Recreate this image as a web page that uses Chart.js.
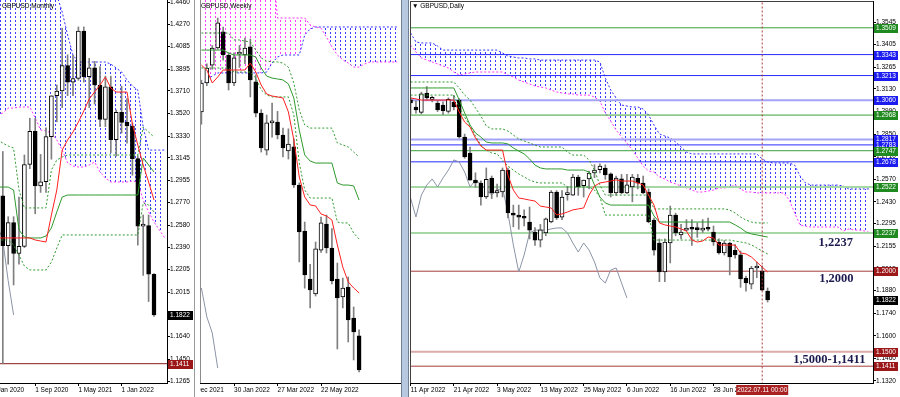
<!DOCTYPE html>
<html><head><meta charset="utf-8">
<script src="https://cdn.jsdelivr.net/npm/chart.js@4.4.1/dist/chart.umd.min.js"></script>
<style>
html,body{margin:0;padding:0;background:#fff}
#wrap{position:relative;width:900px;height:397px;background:#fff;overflow:hidden}
canvas{position:absolute;top:0}
.sep{position:absolute;top:0;height:397px}
</style></head><body>
<div id="wrap">
<canvas id="cm" width="197" height="397" style="left:0"></canvas>
<div class="sep" style="left:194px;width:1px;background:#9a9a9a"></div>
<canvas id="cw" width="202" height="397" style="left:200px"></canvas>
<div class="sep" style="left:401px;width:6px;background:#b7c9df;border-left:1px solid #6f7f95;border-right:1px solid #6f7f95"></div>
<canvas id="cd" width="490" height="397" style="left:410px"></canvas>
</div>
<script>
// ================= DATA =================
// ---- Monthly (index 0 = Jan 2020) : [open, high, low, close]
const mOHLC = [
[1.3255,1.3285,1.2905,1.3205],[1.3205,1.3210,1.2725,1.2825],[1.2825,1.3200,1.1410,1.2405],[1.2405,1.2650,1.2250,1.2600],
[1.2600,1.2650,1.2075,1.2340],[1.2340,1.2815,1.2250,1.2400],[1.2400,1.3170,1.2390,1.3090],[1.3090,1.3480,1.3055,1.3370],
[1.3370,1.3480,1.2675,1.2910],[1.2910,1.3175,1.2855,1.2945],[1.2945,1.3400,1.2855,1.3325],[1.3325,1.3670,1.3135,1.3670],
[1.3670,1.3760,1.3450,1.3710],[1.3710,1.4240,1.3570,1.3925],[1.3925,1.4015,1.3670,1.3785],[1.3785,1.4010,1.3670,1.3815],
[1.3815,1.4250,1.3800,1.4215],[1.4215,1.4250,1.3785,1.3830],[1.3830,1.3985,1.3570,1.3905],[1.3905,1.3960,1.3600,1.3760],
[1.3760,1.3915,1.3410,1.3470],[1.3470,1.3835,1.3410,1.3745],[1.3745,1.3835,1.3190,1.3300],[1.3300,1.3550,1.3160,1.3530],
[1.3530,1.3750,1.3355,1.3445],[1.3445,1.3645,1.3270,1.3415],[1.3415,1.3440,1.3000,1.3140],[1.3140,1.3165,1.2410,1.2570],
[1.2570,1.2665,1.2155,1.2575],[1.2575,1.2665,1.1935,1.2165],[1.2165,1.2170,1.1810,1.1822]];
const mTenkan = [1.2471,1.2471,1.2471,1.2471,1.2471,1.2471,1.2471,1.2471,1.2454,1.2445,1.2437,1.2664,1.2875,1.3212,1.3297,1.3364,1.3448,1.3541,1.3642,1.3701,1.3760,1.3828,1.3735,1.3701,1.3701,1.3701,1.3432,1.3254,1.3086,1.2943,1.2791];
const mKijun = [1.2900,1.2900,1.2900,1.2900,1.2875,1.2538,1.2479,1.2471,1.2471,1.2471,1.2487,1.2555,1.2690,1.2816,1.2833,1.2833,1.2833,1.2833,1.2833,1.2833,1.2833,1.2833,1.2833,1.2833,1.2833,1.2833,1.2833,1.2833,1.3145,1.3086,1.3027];
const mDashUp = [1.3297,1.3297,1.3271,1.3246,1.3229,1.2875,1.2724,1.2724,1.2724,1.2724,1.2724,1.3044,1.3128,1.3154,1.3170,1.3170,1.3170,1.3170,1.3170,1.3170,1.3170,1.3170,1.3170,1.3170,1.3170,1.3170,1.3170,1.3170,1.3406,1.3364,1.3322];
const mDashDn = [1.2454,1.2454,1.2454,1.2454,1.2412,1.2327,1.2234,1.2201,1.2201,1.2201,1.2201,1.2268,1.2386,1.2496,1.2496,1.2496,1.2496,1.2496,1.2496,1.2496,1.2496,1.2496,1.2496,1.2496,1.2496,1.2496,1.2496,1.2496,1.2766,1.2749,1.2690];
const mSpanA = [1.3507,1.3507,1.3524,1.3566,1.3566,1.3575,1.3575,1.3575,1.3482,1.3381,1.3373,1.3356,1.3297,1.3212,1.3103,1.3078,1.3069,1.3069,1.3086,1.3111,1.3027,1.2976,1.2943,1.2943,1.2943,1.2943,1.2951,1.2943,1.2791,1.2690,1.2606,1.2538,1.2471];
const mSpanB = [1.4730,1.4730,1.4730,1.4730,1.4730,1.4730,1.4730,1.4730,1.4730,1.4730,1.4730,1.4730,1.4519,1.4376,1.4182,1.4013,1.3954,1.3954,1.3954,1.3954,1.3954,1.3954,1.3937,1.3904,1.3870,1.3803,1.3752,1.3718,1.3406,1.3212,1.3212,1.3212,1.3212];
const mChikou = [1.3140,1.2580,1.2450,1.2110,1.1822];
const mLevels = [1.1411];
const mPriceTags = [1.1822,1.1411];
const mYTicks = [1.4460,1.4270,1.4085,1.3895,1.3710,1.3520,1.3330,1.3145,1.2955,1.2770,1.2580,1.2390,1.2205,1.2015,1.1830,1.1640,1.1450,1.1265];
const mXTicks = [0,8,16,24];
const mXLabels = ['1 Jan 2020','1 Sep 2020','1 May 2021','1 Jan 2022'];

// ---- Weekly (index 0 = week of 19 Dec 2021)
const wOHLC = [
[1.3237,1.3410,1.3170,1.3395],[1.3395,1.3500,1.3380,1.3477],[1.3493,1.3600,1.3470,1.3586],[1.3586,1.3750,1.3580,1.3723],
[1.3674,1.3700,1.3520,1.3548],[1.3548,1.3560,1.3357,1.3395],[1.3395,1.3560,1.3380,1.3532],[1.3553,1.3600,1.3480,1.3562],
[1.3548,1.3640,1.3500,1.3586],[1.3592,1.3635,1.3319,1.3412],[1.3401,1.3440,1.3210,1.3231],[1.3231,1.3250,1.3018,1.3040],
[1.3029,1.3220,1.3002,1.3177],[1.3177,1.3286,1.3100,1.3182],[1.3182,1.3240,1.3090,1.3111],[1.3111,1.3149,1.2991,1.3040],
[1.3024,1.3145,1.2980,1.3062],[1.3046,1.3090,1.2825,1.2838],[1.2838,1.2850,1.2418,1.2582],[1.2587,1.2636,1.2275,1.2347],
[1.2325,1.2405,1.2167,1.2265],[1.2243,1.2527,1.2232,1.2489],[1.2483,1.2663,1.2470,1.2631],[1.2625,1.2674,1.2467,1.2494],
[1.2494,1.2600,1.2298,1.2314],[1.2325,1.2412,1.1943,1.2221],[1.2227,1.2330,1.2167,1.2276],[1.2281,1.2336,1.1981,1.2101],
[1.2112,1.2172,1.1883,1.2036],[1.2014,1.2047,1.1817,1.1828]];
const wTenkan = [1.3493,1.3466,1.3395,1.3428,1.3466,1.3466,1.3466,1.3466,1.3466,1.3504,1.3455,1.3384,1.3335,1.3324,1.3319,1.3313,1.3237,1.3084,1.2882,1.2773,1.2729,1.2724,1.2680,1.2669,1.2647,1.2511,1.2390,1.2309,1.2276,1.2249];
const wKijun = [1.3575,1.3575,1.3575,1.3575,1.3575,1.3559,1.3548,1.3548,1.3548,1.3548,1.3537,1.3477,1.3433,1.3422,1.3417,1.3412,1.3390,1.3313,1.3138,1.3002,1.2969,1.2958,1.2958,1.2958,1.2958,1.2849,1.2838,1.2838,1.2833,1.2756];
const wDashUp = [1.3668,1.3668,1.3668,1.3668,1.3668,1.3668,1.3630,1.3630,1.3624,1.3619,1.3575,1.3532,1.3515,1.3510,1.3510,1.3504,1.3482,1.3395,1.3248,1.3166,1.3149,1.3149,1.3149,1.3149,1.3149,1.3068,1.3057,1.3046,1.3018,1.2991];
const wDashDn = [1.3477,1.3477,1.3477,1.3477,1.3477,1.3477,1.3455,1.3455,1.3455,1.3455,1.3422,1.3357,1.3330,1.3319,1.3319,1.3319,1.3319,1.3220,1.2958,1.2811,1.2767,1.2767,1.2767,1.2767,1.2767,1.2636,1.2631,1.2631,1.2576,1.2543];
const wSpanA = [1.4067,1.4067,1.4067,1.4067,1.4067,1.4067,1.4067,1.4067,1.4067,1.4067,1.4067,1.4067,1.4067,1.4067,1.3750,1.3750,1.3750,1.3750,1.3750,1.3750,1.3712,1.3701,1.3695,1.3646,1.3592,1.3548,1.3521,1.3504,1.3482,1.3482,1.3499,1.3510,1.3510,1.3510,1.3510,1.3510,1.3510];
const wSpanB = [1.3384,1.3412,1.3433,1.3450,1.3450,1.3450,1.3450,1.3450,1.3450,1.3450,1.3450,1.3450,1.3455,1.3504,1.3537,1.3548,1.3548,1.3548,1.3548,1.3657,1.3690,1.3701,1.3701,1.3701,1.3701,1.3701,1.3701,1.3701,1.3701,1.3701,1.3701,1.3701,1.3701,1.3701,1.3701,1.3701,1.3701];
const wChikou = [1.2276,1.2118,1.2030,1.1839];
const wXTicks = [-2,6,14,22];
const wXLabels = ['5 Dec 2021','30 Jan 2022','27 Mar 2022','22 May 2022'];

// ---- Daily (index 0 = 11 Apr 2022)
const dOHLC = [
[1.3062,1.3080,1.2975,1.3043],[1.3018,1.3055,1.2980,1.3000],[1.2985,1.3110,1.2975,1.3100],[1.3105,1.3145,1.3060,1.3074],
[1.3065,1.3085,1.3050,1.3070],[1.3043,1.3060,1.2990,1.3000],[1.3030,1.3050,1.2970,1.2995],[1.2990,1.3075,1.2980,1.3065],
[1.3049,1.3090,1.3000,1.3018],[1.3061,1.3070,1.2825,1.2832],[1.2832,1.2850,1.2700,1.2708],[1.2733,1.2770,1.2565,1.2565],
[1.2565,1.2610,1.2520,1.2547],[1.2547,1.2560,1.2410,1.2460],[1.2460,1.2640,1.2450,1.2570],[1.2578,1.2590,1.2450,1.2485],
[1.2485,1.2540,1.2460,1.2500],[1.2491,1.2640,1.2460,1.2627],[1.2627,1.2640,1.2330,1.2361],[1.2361,1.2410,1.2275,1.2347],
[1.2345,1.2410,1.2260,1.2335],[1.2335,1.2380,1.2280,1.2328],[1.2305,1.2398,1.2200,1.2255],[1.2243,1.2270,1.2160,1.2193],
[1.2193,1.2290,1.2150,1.2256],[1.2237,1.2330,1.2220,1.2324],[1.2305,1.2500,1.2300,1.2491],[1.2491,1.2500,1.2320,1.2330],
[1.2335,1.2500,1.2320,1.2460],[1.2475,1.2525,1.2440,1.2485],[1.2472,1.2600,1.2470,1.2584],[1.2584,1.2595,1.2470,1.2522],
[1.2530,1.2565,1.2460,1.2565],[1.2572,1.2620,1.2510,1.2609],[1.2609,1.2660,1.2580,1.2627],[1.2630,1.2665,1.2610,1.2652],
[1.2640,1.2660,1.2570,1.2597],[1.2603,1.2610,1.2460,1.2485],[1.2485,1.2590,1.2470,1.2578],[1.2572,1.2600,1.2480,1.2485],
[1.2485,1.2600,1.2480,1.2535],[1.2522,1.2600,1.2430,1.2584],[1.2575,1.2600,1.2510,1.2545],[1.2547,1.2590,1.2480,1.2485],
[1.2491,1.2510,1.2300,1.2305],[1.2317,1.2330,1.2100,1.2131],[1.2175,1.2200,1.1935,1.1995],[1.1995,1.2200,1.1935,1.2181],
[1.2175,1.2404,1.2051,1.2348],[1.2348,1.2360,1.2220,1.2237],[1.2225,1.2290,1.2200,1.2243],[1.2255,1.2320,1.2250,1.2265],
[1.2268,1.2320,1.2160,1.2260],[1.2262,1.2300,1.2210,1.2258],[1.2255,1.2320,1.2240,1.2268],[1.2268,1.2330,1.2250,1.2260],
[1.2243,1.2280,1.2160,1.2181],[1.2181,1.2200,1.2105,1.2113],[1.2113,1.2190,1.2100,1.2175],[1.2175,1.2180,1.1977,1.2088],
[1.2130,1.2165,1.2080,1.2101],[1.2101,1.2125,1.1900,1.1952],[1.1958,1.1970,1.1876,1.1927],[1.1920,1.2030,1.1890,1.2020],
[1.2020,1.2057,1.1960,1.2027],[1.2001,1.2033,1.1880,1.1883],[1.1877,1.1896,1.1809,1.1822]];
const dTenkan = [1.3074,1.3068,1.3061,1.3061,1.3061,1.3061,1.3061,1.3061,1.3061,1.2987,1.2925,1.2894,1.2826,1.2776,1.2751,1.2751,1.2751,1.2751,1.2596,1.2503,1.2454,1.2448,1.2441,1.2435,1.2404,1.2398,1.2392,1.2349,1.2355,1.2367,1.2380,1.2386,1.2392,1.2472,1.2528,1.2547,1.2553,1.2559,1.2566,1.2559,1.2559,1.2559,1.2547,1.2534,1.2472,1.2410,1.2299,1.2287,1.2280,1.2274,1.2262,1.2249,1.2193,1.2181,1.2187,1.2212,1.2206,1.2162,1.2162,1.2162,1.2162,1.2113,1.2107,1.2088,1.2057,1.2026,1.1995];
const dKijun = [1.3136,1.3136,1.3136,1.3136,1.3136,1.3136,1.3136,1.3136,1.3136,1.3062,1.2981,1.2906,1.2857,1.2832,1.2801,1.2795,1.2795,1.2795,1.2789,1.2764,1.2745,1.2727,1.2696,1.2658,1.2640,1.2634,1.2634,1.2634,1.2634,1.2627,1.2627,1.2627,1.2627,1.2615,1.2534,1.2460,1.2423,1.2410,1.2410,1.2410,1.2410,1.2410,1.2410,1.2410,1.2410,1.2342,1.2305,1.2305,1.2305,1.2305,1.2305,1.2305,1.2305,1.2305,1.2305,1.2305,1.2305,1.2305,1.2305,1.2305,1.2287,1.2268,1.2243,1.2231,1.2225,1.2218,1.2212];
const dDashUp = [1.3173,1.3173,1.3173,1.3173,1.3173,1.3173,1.3173,1.3173,1.3173,1.3136,1.3092,1.3061,1.3012,1.2962,1.2900,1.2882,1.2882,1.2882,1.2869,1.2844,1.2820,1.2807,1.2795,1.2782,1.2770,1.2770,1.2770,1.2770,1.2770,1.2739,1.2720,1.2720,1.2720,1.2689,1.2627,1.2534,1.2472,1.2472,1.2472,1.2472,1.2472,1.2472,1.2472,1.2472,1.2472,1.2386,1.2386,1.2386,1.2386,1.2386,1.2386,1.2386,1.2386,1.2386,1.2386,1.2386,1.2386,1.2386,1.2386,1.2379,1.2361,1.2336,1.2317,1.2305,1.2299,1.2299,1.2299];
const dDashDn = [1.3092,1.3092,1.3092,1.3092,1.3092,1.3092,1.3092,1.3092,1.3092,1.3018,1.2956,1.2900,1.2838,1.2782,1.2751,1.2733,1.2727,1.2689,1.2652,1.2627,1.2603,1.2584,1.2565,1.2553,1.2547,1.2547,1.2547,1.2547,1.2547,1.2522,1.2522,1.2522,1.2522,1.2522,1.2503,1.2460,1.2348,1.2348,1.2348,1.2348,1.2348,1.2348,1.2348,1.2348,1.2348,1.2193,1.2193,1.2193,1.2193,1.2193,1.2193,1.2193,1.2193,1.2193,1.2193,1.2193,1.2193,1.2193,1.2193,1.2193,1.2187,1.2181,1.2175,1.2163,1.2144,1.2125,1.2107];
const dSpanA = [1.3402,1.3359,1.3322,1.3309,1.3297,1.3285,1.3272,1.3260,1.3235,1.3216,1.3223,1.3229,1.3235,1.3235,1.3235,1.3235,1.3235,1.3235,1.3216,1.3204,1.3185,1.3173,1.3161,1.3148,1.3142,1.3136,1.3123,1.3111,1.3105,1.3099,1.3099,1.3092,1.3092,1.3092,1.3080,1.3055,1.2981,1.2931,1.2875,1.2832,1.2795,1.2751,1.2702,1.2652,1.2621,1.2615,1.2584,1.2572,1.2553,1.2541,1.2528,1.2516,1.2503,1.2491,1.2491,1.2497,1.2503,1.2516,1.2516,1.2522,1.2534,1.2510,1.2491,1.2491,1.2485,1.2485,1.2485,1.2485,1.2485,1.2485,1.2441,1.2361,1.2286,1.2280,1.2274,1.2274,1.2274,1.2274,1.2274,1.2274,1.2249,1.2262,1.2255,1.2255,1.2249,1.2237];
const dSpanB = [1.3477,1.3421,1.3415,1.3415,1.3415,1.3396,1.3371,1.3371,1.3371,1.3371,1.3371,1.3371,1.3371,1.3371,1.3371,1.3371,1.3371,1.3353,1.3334,1.3328,1.3322,1.3322,1.3316,1.3316,1.3309,1.3309,1.3309,1.3309,1.3309,1.3309,1.3309,1.3309,1.3309,1.3309,1.3309,1.3297,1.3198,1.3123,1.3074,1.3030,1.3024,1.3018,1.3018,1.3006,1.2968,1.2906,1.2851,1.2838,1.2826,1.2801,1.2770,1.2739,1.2727,1.2727,1.2727,1.2727,1.2727,1.2727,1.2727,1.2727,1.2727,1.2727,1.2727,1.2727,1.2727,1.2696,1.2677,1.2671,1.2671,1.2671,1.2671,1.2658,1.2590,1.2547,1.2534,1.2534,1.2534,1.2534,1.2534,1.2534,1.2528,1.2510,1.2510,1.2510,1.2510,1.2510];
const dChikou = [1.2454,1.2336,1.2472,1.2534,1.2572,1.2522,1.2578,1.2627,1.2690,1.2677,1.2615,1.2522,1.2565,1.2541,1.2503,1.2472,1.2503,1.2516,1.2361,1.2163,1.1995,1.2101,1.2237,1.2255,1.2255,1.2255,1.2262,1.2268,1.2268,1.2237,1.2175,1.2119,1.2175,1.2131,1.2057,1.1958,1.1927,1.2007,1.2020,1.1927,1.1834];
const dLevels = [1.3509,1.3343,1.3213,1.3060,1.2968,1.2817,1.2783,1.2747,1.2678,1.2522,1.2237,1.2000,1.1500,1.1411];
const dLevelKind = ['g','b','b','bl','g','bl','b','g','b','gl','gl','r','rl','r'];
const dPriceTags = [1.1822];
const dYTicks = [1.3545,1.3405,1.3265,1.3130,1.2990,1.2850,1.2710,1.2570,1.2430,1.2295,1.2155,1.2015,1.1880,1.1740,1.1600,1.1460,1.1320];
const dXTicks = [0,8,16,24,32,40,48,56];
const dXLabels = ['11 Apr 2022','21 Apr 2022','3 May 2022','13 May 2022','25 May 2022','6 Jun 2022','16 Jun 2022','28 Jun 2022'];
const dCursorIndex = 65;
const dCursorLabel = '2022.07.11 00:00';
const dNotes = [{text:'1,2237', x:78.6, y:1.2175},{text:'1,2000', x:78.7, y:1.1952},{text:'1,5000-1,1411', x:77.4, y:1.1449}];

// ================= STYLE / RENDER =================
const FONT = 'Liberation Sans';
const C = {
  red:'#ff1f1f', green:'#2e9a2e', chikou:'#8a94a6', spanA:'#ff33ff', spanB:'#3333ff', wick:'#7f7f7f',
  lv:{g:['#38a038',1], b:['#2a2aff',1], bl:['#a3a3f7',2], gl:['#a6d8a6',2], r:['#a63c3c',1], rl:['#dcaaaa',2]},
  tag:{g:'#1f8a1f', b:'#1c1cf0', bl:'#1c1cf0', gl:'#1f8a1f', r:'#9c1818', rl:'#9c1818'}
};
function hatch(color){
  const c=document.createElement('canvas'); c.width=5; c.height=4;
  const x=c.getContext('2d'); x.fillStyle=color; x.fillRect(0,0,1,2);
  return x.createPattern(c,'repeat');
}
const PINK = hatch('#ff3cff'), BLUE = hatch('#3c3cff');
const xy = arr => arr.map((v,i)=>({x:i,y:v}));
function candles(ohlc){
  return [
    {type:'bar', data:ohlc.map((c,i)=>({x:i,y:[c[2],c[1]]})), backgroundColor:C.wick, borderWidth:0, barThickness:1, grouped:false, order:70},
    {type:'bar', data:ohlc.map((c,i)=>({x:i,y:[Math.min(c[0],c[3]),Math.max(c[0],c[3])]})),
      backgroundColor:ohlc.map(c=>c[3]>=c[0]?'#ffffff':'#000000'), borderColor:'#000', borderWidth:1, borderSkipped:false,
      barThickness:4, grouped:false, minBarLength:2, order:69}
  ];
}
function line(arr,color,extra){return Object.assign({type:'line',data:xy(arr),borderColor:color,borderWidth:1,pointRadius:0,fill:false,tension:0,order:60},extra||{});}
function hline(v,color,w,x0,x1){return {type:'line',data:[{x:x0,y:v},{x:x1,y:v}],borderColor:color,borderWidth:w,pointRadius:0,fill:false,order:90};}
function cloud(a,b){
  return [
    line(a,C.spanA,{borderDash:[2,2],fill:{target:'+1',above:PINK,below:BLUE},order:100}),
    line(b,C.spanB,{borderDash:[2,2],order:99})
  ];
}
function ichimoku(t,k,du,dd,ch){
  return [
    line(ch,C.chikou,{order:80}),
    line(du,C.green,{borderDash:[2,2],order:62}),
    line(dd,C.green,{borderDash:[2,2],order:62}),
    line(k,C.green,{order:61}),
    line(t,C.red,{order:50})
  ];
}
const deco = {
  id:'deco',
  afterDraw(chart,args,o){
    const {ctx, chartArea:a, scales:{x,y}} = chart;
    ctx.save();
    if(o.frame){ctx.strokeStyle=o.frame.color;ctx.lineWidth=1;ctx.beginPath();
      if(o.frame.left){ctx.moveTo(a.left+0.5,a.top);ctx.lineTo(a.left+0.5,a.bottom);}
      if(o.frame.top){ctx.moveTo(a.left,a.top+0.5);ctx.lineTo(a.right,a.top+0.5);}
      ctx.stroke();}
    ctx.font='6.5px "'+FONT+'"';ctx.fillStyle='#000';ctx.textAlign='left';ctx.textBaseline='middle';
    if(o.title) ctx.fillText(o.title,a.left+o.titleX,6);
    (o.notes||[]).forEach(t=>{ctx.font='bold 12.5px "Liberation Serif"';ctx.fillStyle='#1b1b4f';ctx.textAlign='center';ctx.textBaseline='middle';
      ctx.fillText(t.text,x.getPixelForValue(t.x),y.getPixelForValue(t.y));});
    (o.tags||[]).forEach(b=>{const py=Math.round(y.getPixelForValue(b.v));
      ctx.fillStyle=b.c;ctx.fillRect(a.right+1,py-4,o.tagW,9);
      ctx.fillStyle='#fff';ctx.font='6.5px "'+FONT+'"';ctx.textAlign='left';ctx.textBaseline='middle';
      ctx.fillText(b.v.toFixed(4),a.right+3,py+0.5);});
    if(o.cursor){const px=x.getPixelForValue(o.cursor.x);
      ctx.fillStyle='#a82020';ctx.fillRect(px-26,a.bottom+2,52,10);
      ctx.fillStyle='#fff';ctx.font='6.5px "'+FONT+'"';ctx.textAlign='center';ctx.textBaseline='middle';
      ctx.fillText(o.cursor.text,px,a.bottom+7.5);}
    ctx.restore();
  }
};
function make(id,P){
  return new Chart(document.getElementById(id),{
    type:'bar',
    data:{datasets:P.datasets},
    options:{
      responsive:false, animation:false, events:[], devicePixelRatio:1,
      layout:{padding:{top:P.padTop||0,left:0,right:0,bottom:0}},
      plugins:{legend:{display:false},tooltip:{enabled:false},deco:P.deco},
      scales:{
        x:{type:'linear',min:P.xmin,max:P.xmax,offset:false,
          grid:{display:true,drawOnChartArea:false,drawTicks:true,tickLength:3,color:'#000',offset:false},
          border:{display:true,color:'#000'},
          ticks:{autoSkip:false,maxRotation:0,minRotation:0,align:'start',padding:0,color:'#000',font:{family:FONT,size:6.5},
            callback:v=>P.xLabels[P.xTicks.indexOf(v)]},
          afterBuildTicks:s=>{s.ticks=P.xTicks.map(v=>({value:v}));},
          afterFit:s=>{s.height=14;s.paddingLeft=0;s.paddingRight=0;}
        },
        y:{type:'linear',position:'right',min:P.ymin,max:P.ymax,beginAtZero:false,display:P.yShow,
          grid:{display:true,drawOnChartArea:false,tickLength:3,color:'#000'},
          border:{display:true,color:'#000'},
          ticks:{padding:0,color:'#000',font:{family:FONT,size:6.5},callback:v=>v.toFixed(4)},
          afterBuildTicks:s=>{s.ticks=(P.yTicks||[]).map(v=>({value:v}));},
          afterFit:s=>{s.width=P.yWidth;s.paddingTop=0;s.paddingBottom=0;}
        }
      }
    },
    plugins:[deco]
  });
}

// Monthly
make('cm',{
  xmin:1.4815,xmax:32.407,ymin:1.12482,ymax:1.44769,yShow:true,yWidth:30,
  xTicks:mXTicks,xLabels:mXLabels,yTicks:mYTicks,
  datasets:[...cloud(mSpanA,mSpanB),...mLevels.map(v=>hline(v,'#8b1a1a',1,-5,40)),...candles(mOHLC),...ichimoku(mTenkan,mKijun,mDashUp,mDashDn,mChikou)],
  deco:{title:'GBPUSD,Monthly',titleX:2,tagW:25,tags:mPriceTags.map((v,i)=>({v,c:i===0?'#000':'#9c1818'}))}
});
// Weekly
make('cw',{
  xmin:-0.257,xmax:36.89,ymin:1.17571,ymax:1.38483,yShow:false,yWidth:0,
  xTicks:wXTicks,xLabels:wXLabels,yTicks:[],
  datasets:[...cloud(wSpanA,wSpanB),...candles(wOHLC),...ichimoku(wTenkan,wKijun,wDashUp,wDashDn,wChikou)],
  deco:{title:'GBPUSD,Weekly',titleX:1,frame:{left:true,color:'#8c8c8c'}}
});
// Daily
make('cd',{
  xmin:-0.1,xmax:85.48,ymin:1.13068,ymax:1.36752,yShow:true,yWidth:27,padTop:1,
  xTicks:dXTicks,xLabels:dXLabels,yTicks:dYTicks,
  datasets:[...cloud(dSpanA,dSpanB),
    ...dLevels.map((v,i)=>hline(v,C.lv[dLevelKind[i]][0],C.lv[dLevelKind[i]][1],-5,95)),
    {type:'line',data:[{x:dCursorIndex,y:1.10},{x:dCursorIndex,y:1.40}],borderColor:'#b03a3a',borderWidth:1,borderDash:[2,2],pointRadius:0,fill:false,order:40},
    ...candles(dOHLC),...ichimoku(dTenkan,dKijun,dDashUp,dDashDn,dChikou)],
  deco:{title:'\u25BC GBPUSD,Daily',titleX:2,frame:{left:true,top:true,color:'#404040'},tagW:24,
    tags:[...dLevels.map((v,i)=>({v,c:C.tag[dLevelKind[i]]})),...dPriceTags.map(v=>({v,c:'#000'}))],
    notes:dNotes,cursor:{x:dCursorIndex,text:dCursorLabel}}
});
</script>
</body></html>
